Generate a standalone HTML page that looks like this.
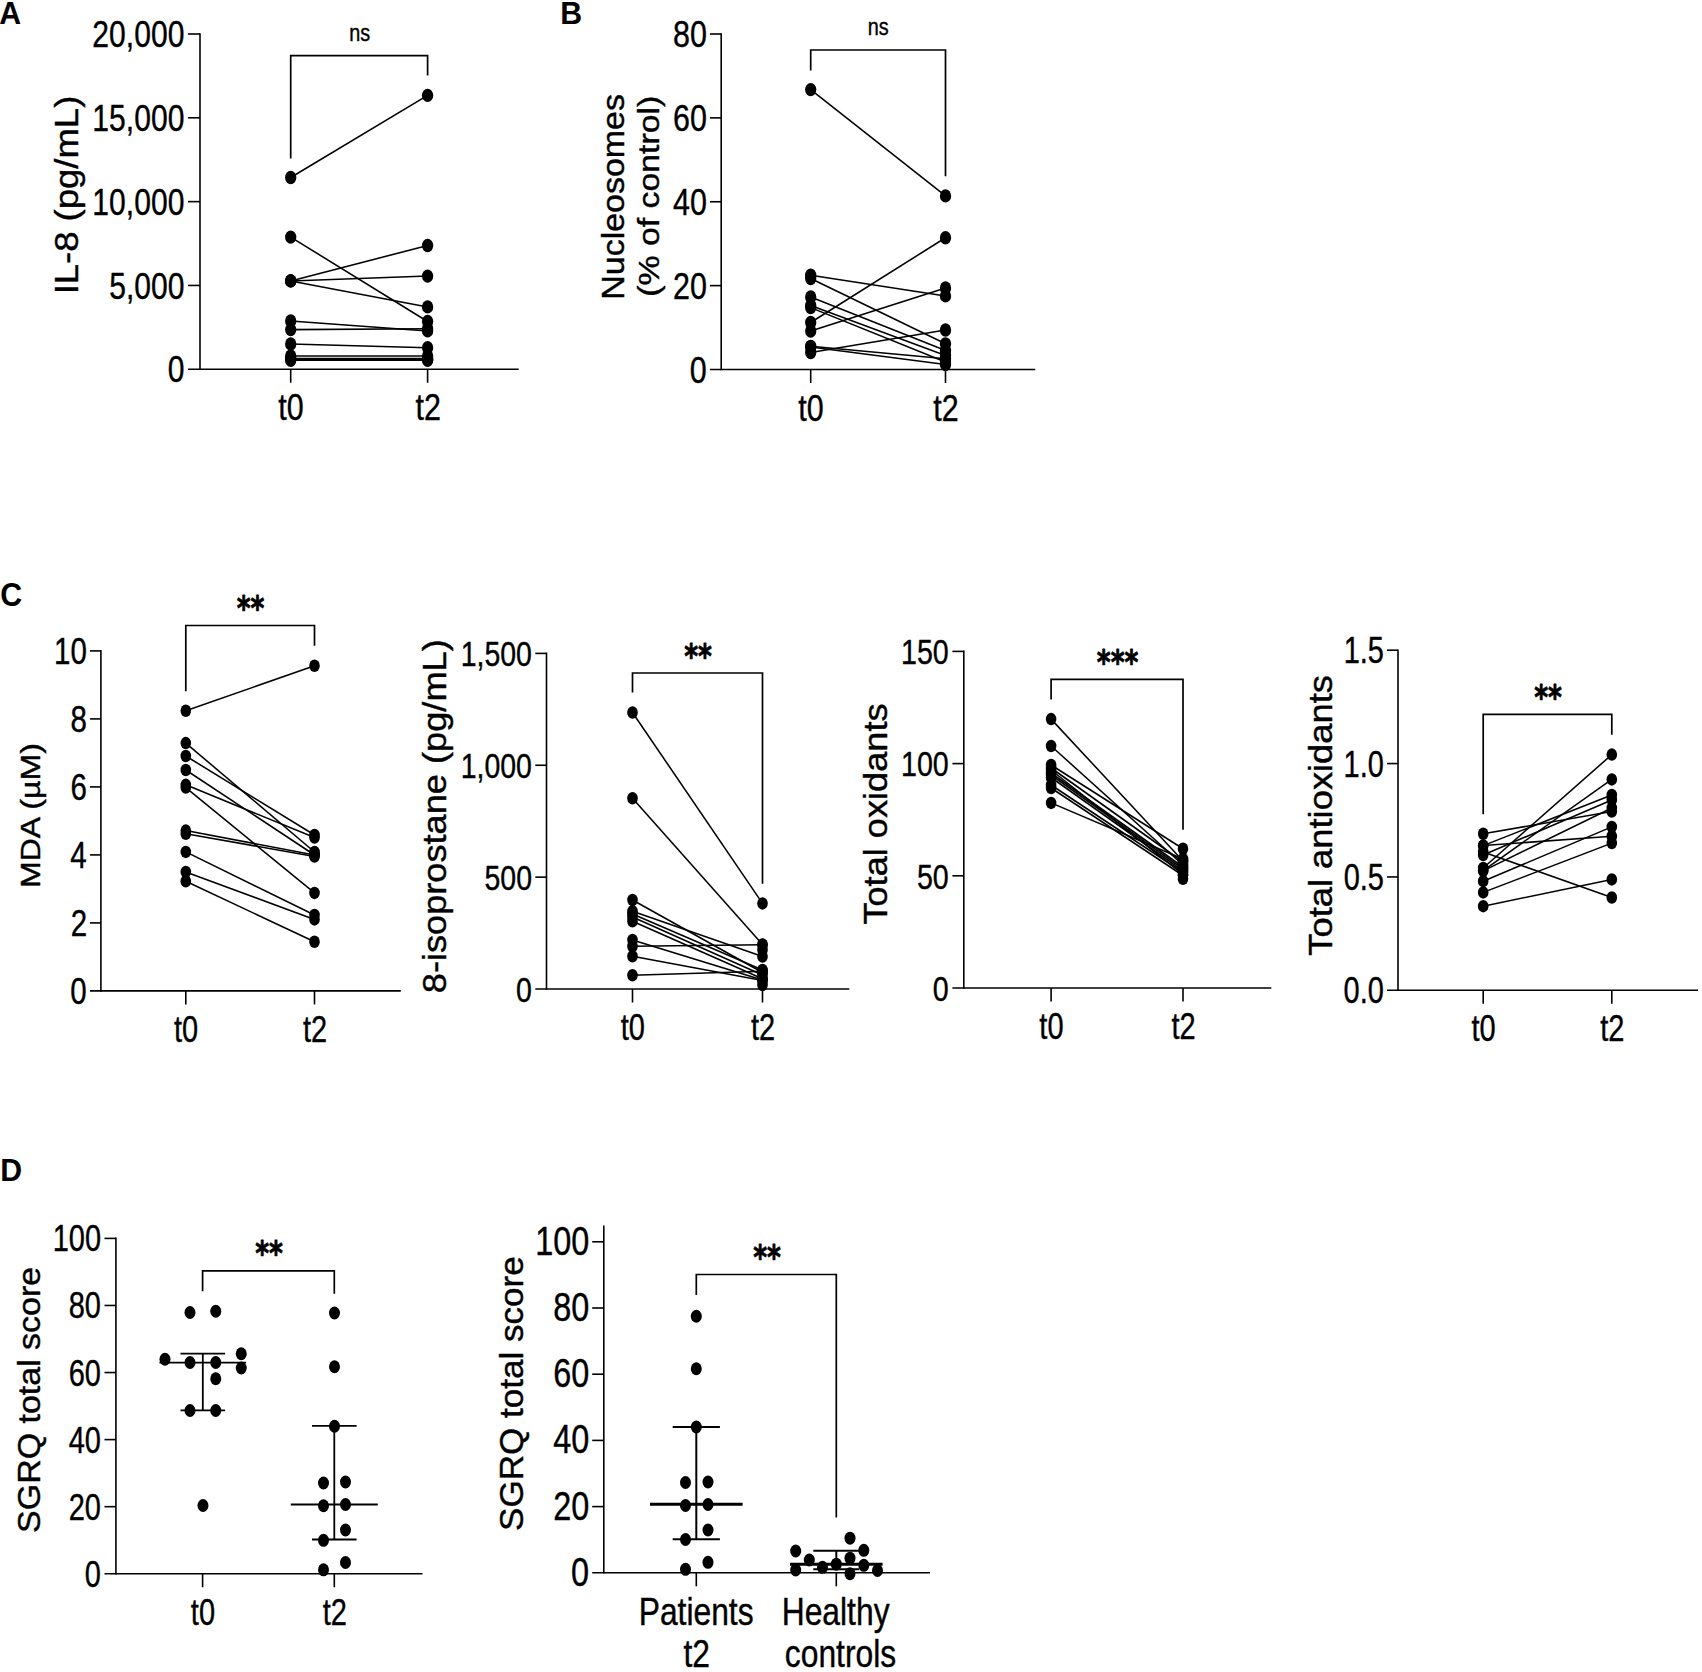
<!DOCTYPE html>
<html lang="en"><head><meta charset="utf-8"><title>Figure</title>
<style>html,body{margin:0;padding:0;background:#fff}svg{display:block}text{font-family:"Liberation Sans",sans-serif;fill:#000;stroke:#000;stroke-width:.4px;stroke-linejoin:round}text.st{font-family:"DejaVu Sans","Liberation Sans",sans-serif;font-weight:bold;stroke-width:.8px}text.pl{stroke:none}</style>
</head><body>
<svg width="1702" height="1672" viewBox="0 0 1702 1672" stroke="#000" >
<rect x="0" y="0" width="1702" height="1672" fill="#fff" stroke="none"/>
<text transform="matrix(1 0 0 1.035 -0.76 24.15)" font-size="30.3" font-weight="bold" class="pl">A</text>
<text transform="matrix(1 0 0 1.035 560.23 24.15)" font-size="30.3" font-weight="bold" class="pl">B</text>
<text transform="matrix(1 0 0 1.07 0.3 606.1)" font-size="30.3" font-weight="bold" class="pl">C</text>
<text transform="matrix(1 0 0 1.035 0.13 1181.4)" font-size="30.3" font-weight="bold" class="pl">D</text>
<line x1="200" y1="33.2" x2="200" y2="370.06" stroke-width="1.6"/>
<line x1="188" y1="369.26" x2="518.7" y2="369.26" stroke-width="1.6"/>
<line x1="188" y1="34" x2="200" y2="34" stroke-width="1.6"/>
<line x1="188" y1="117.81" x2="200" y2="117.81" stroke-width="1.6"/>
<line x1="188" y1="201.63" x2="200" y2="201.63" stroke-width="1.6"/>
<line x1="188" y1="285.44" x2="200" y2="285.44" stroke-width="1.6"/>
<line x1="290.7" y1="369.26" x2="290.7" y2="382.76" stroke-width="1.6"/>
<line x1="427.6" y1="369.26" x2="427.6" y2="382.76" stroke-width="1.6"/>
<text transform="matrix(0.82 0 0 1 92.37 47.16)" font-size="36.7">20,000</text>
<text transform="matrix(0.82 0 0 1 92.37 130.98)" font-size="36.7">15,000</text>
<text transform="matrix(0.82 0 0 1 92.37 214.79)" font-size="36.7">10,000</text>
<text transform="matrix(0.82 0 0 1 109.22 298.61)" font-size="36.7">5,000</text>
<text transform="matrix(0.82 0 0 1 167.75 382.42)" font-size="36.7">0</text>
<text transform="matrix(0.83 0 0 1 278.29 420.26)" font-size="36.7">t0</text>
<text transform="matrix(0.83 0 0 1 415.42 420.26)" font-size="36.7">t2</text>
<text transform="matrix(0 -1.09 1 0 77.9 294.37)" font-size="33.48">IL-8 (pg/mL)</text>
<text transform="matrix(0.82 0 0 1 349.13 40.9)" font-size="24.2">ns</text>
<path d="M290.7 158.4V55.6H427.6V75.6" stroke-width="1.7" fill="none"/>
<line x1="290.7" y1="177.5" x2="427.6" y2="95.4" stroke-width="1.55"/>
<line x1="290.7" y1="237.1" x2="427.6" y2="321.5" stroke-width="1.55"/>
<line x1="290.7" y1="280.9" x2="427.6" y2="245.5" stroke-width="1.55"/>
<line x1="290.7" y1="280.9" x2="427.6" y2="276.1" stroke-width="1.55"/>
<line x1="290.7" y1="280.9" x2="427.6" y2="306.9" stroke-width="1.55"/>
<line x1="290.7" y1="320.9" x2="427.6" y2="330.9" stroke-width="1.55"/>
<line x1="290.7" y1="329.6" x2="427.6" y2="328.7" stroke-width="1.55"/>
<line x1="290.7" y1="344" x2="427.6" y2="347.75" stroke-width="1.55"/>
<line x1="290.7" y1="355.9" x2="427.6" y2="355.9" stroke-width="1.55"/>
<line x1="290.7" y1="358.4" x2="427.6" y2="358.4" stroke-width="1.55"/>
<line x1="290.7" y1="359.4" x2="427.6" y2="359.4" stroke-width="1.55"/>
<line x1="290.7" y1="360.3" x2="427.6" y2="360.3" stroke-width="1.55"/>
<ellipse cx="290.7" cy="177.5" rx="5.65" ry="6.65" fill="#000" stroke="none"/>
<ellipse cx="427.6" cy="95.4" rx="5.65" ry="6.65" fill="#000" stroke="none"/>
<ellipse cx="290.7" cy="237.1" rx="5.65" ry="6.65" fill="#000" stroke="none"/>
<ellipse cx="427.6" cy="321.5" rx="5.65" ry="6.65" fill="#000" stroke="none"/>
<ellipse cx="290.7" cy="280.9" rx="5.65" ry="6.65" fill="#000" stroke="none"/>
<ellipse cx="427.6" cy="245.5" rx="5.65" ry="6.65" fill="#000" stroke="none"/>
<ellipse cx="290.7" cy="280.9" rx="5.65" ry="6.65" fill="#000" stroke="none"/>
<ellipse cx="427.6" cy="276.1" rx="5.65" ry="6.65" fill="#000" stroke="none"/>
<ellipse cx="290.7" cy="280.9" rx="5.65" ry="6.65" fill="#000" stroke="none"/>
<ellipse cx="427.6" cy="306.9" rx="5.65" ry="6.65" fill="#000" stroke="none"/>
<ellipse cx="290.7" cy="320.9" rx="5.65" ry="6.65" fill="#000" stroke="none"/>
<ellipse cx="427.6" cy="330.9" rx="5.65" ry="6.65" fill="#000" stroke="none"/>
<ellipse cx="290.7" cy="329.6" rx="5.65" ry="6.65" fill="#000" stroke="none"/>
<ellipse cx="427.6" cy="328.7" rx="5.65" ry="6.65" fill="#000" stroke="none"/>
<ellipse cx="290.7" cy="344" rx="5.65" ry="6.65" fill="#000" stroke="none"/>
<ellipse cx="427.6" cy="347.75" rx="5.65" ry="6.65" fill="#000" stroke="none"/>
<ellipse cx="290.7" cy="355.9" rx="5.65" ry="6.65" fill="#000" stroke="none"/>
<ellipse cx="427.6" cy="355.9" rx="5.65" ry="6.65" fill="#000" stroke="none"/>
<ellipse cx="290.7" cy="358.4" rx="5.65" ry="6.65" fill="#000" stroke="none"/>
<ellipse cx="427.6" cy="358.4" rx="5.65" ry="6.65" fill="#000" stroke="none"/>
<ellipse cx="290.7" cy="359.4" rx="5.65" ry="6.65" fill="#000" stroke="none"/>
<ellipse cx="427.6" cy="359.4" rx="5.65" ry="6.65" fill="#000" stroke="none"/>
<ellipse cx="290.7" cy="360.3" rx="5.65" ry="6.65" fill="#000" stroke="none"/>
<ellipse cx="427.6" cy="360.3" rx="5.65" ry="6.65" fill="#000" stroke="none"/>
<line x1="721.2" y1="33.2" x2="721.2" y2="370.3" stroke-width="1.6"/>
<line x1="709.9" y1="369.5" x2="1035.2" y2="369.5" stroke-width="1.6"/>
<line x1="709.9" y1="34" x2="721.2" y2="34" stroke-width="1.6"/>
<line x1="709.9" y1="117.88" x2="721.2" y2="117.88" stroke-width="1.6"/>
<line x1="709.9" y1="201.75" x2="721.2" y2="201.75" stroke-width="1.6"/>
<line x1="709.9" y1="285.62" x2="721.2" y2="285.62" stroke-width="1.6"/>
<line x1="810.7" y1="369.5" x2="810.7" y2="383" stroke-width="1.6"/>
<line x1="945.5" y1="369.5" x2="945.5" y2="383" stroke-width="1.6"/>
<text transform="matrix(0.83 0 0 1 672.95 47.16)" font-size="36.7">80</text>
<text transform="matrix(0.83 0 0 1 672.95 131.04)" font-size="36.7">60</text>
<text transform="matrix(0.83 0 0 1 672.95 214.91)" font-size="36.7">40</text>
<text transform="matrix(0.83 0 0 1 672.95 298.79)" font-size="36.7">20</text>
<text transform="matrix(0.83 0 0 1 689.86 382.66)" font-size="36.7">0</text>
<text transform="matrix(0.83 0 0 1 798.29 420.5)" font-size="36.7">t0</text>
<text transform="matrix(0.83 0 0 1 933.32 420.5)" font-size="36.7">t2</text>
<text transform="matrix(0 -1.1 1 0 624.4 299.73)" font-size="30.87">Nucleosomes</text>
<text transform="matrix(0 -1.15 1 0 658.8 296.63)" font-size="29.38">(% of control)</text>
<text transform="matrix(0.82 0 0 1 867.83 35.2)" font-size="24.2">ns</text>
<path d="M810.7 70.6V50H945.5V176.3" stroke-width="1.7" fill="none"/>
<line x1="810.7" y1="89.6" x2="945.5" y2="195.9" stroke-width="1.55"/>
<line x1="810.7" y1="275.2" x2="945.5" y2="295.9" stroke-width="1.55"/>
<line x1="810.7" y1="278.5" x2="945.5" y2="343.8" stroke-width="1.55"/>
<line x1="810.7" y1="297" x2="945.5" y2="350.5" stroke-width="1.55"/>
<line x1="810.7" y1="305.5" x2="945.5" y2="355.5" stroke-width="1.55"/>
<line x1="810.7" y1="307.6" x2="945.5" y2="362" stroke-width="1.55"/>
<line x1="810.7" y1="322.5" x2="945.5" y2="237.75" stroke-width="1.55"/>
<line x1="810.7" y1="331" x2="945.5" y2="288" stroke-width="1.55"/>
<line x1="810.7" y1="346.3" x2="945.5" y2="358.8" stroke-width="1.55"/>
<line x1="810.7" y1="347" x2="945.5" y2="364.5" stroke-width="1.55"/>
<line x1="810.7" y1="352.5" x2="945.5" y2="330" stroke-width="1.55"/>
<ellipse cx="810.7" cy="89.6" rx="5.65" ry="6.65" fill="#000" stroke="none"/>
<ellipse cx="945.5" cy="195.9" rx="5.65" ry="6.65" fill="#000" stroke="none"/>
<ellipse cx="810.7" cy="275.2" rx="5.65" ry="6.65" fill="#000" stroke="none"/>
<ellipse cx="945.5" cy="295.9" rx="5.65" ry="6.65" fill="#000" stroke="none"/>
<ellipse cx="810.7" cy="278.5" rx="5.65" ry="6.65" fill="#000" stroke="none"/>
<ellipse cx="945.5" cy="343.8" rx="5.65" ry="6.65" fill="#000" stroke="none"/>
<ellipse cx="810.7" cy="297" rx="5.65" ry="6.65" fill="#000" stroke="none"/>
<ellipse cx="945.5" cy="350.5" rx="5.65" ry="6.65" fill="#000" stroke="none"/>
<ellipse cx="810.7" cy="305.5" rx="5.65" ry="6.65" fill="#000" stroke="none"/>
<ellipse cx="945.5" cy="355.5" rx="5.65" ry="6.65" fill="#000" stroke="none"/>
<ellipse cx="810.7" cy="307.6" rx="5.65" ry="6.65" fill="#000" stroke="none"/>
<ellipse cx="945.5" cy="362" rx="5.65" ry="6.65" fill="#000" stroke="none"/>
<ellipse cx="810.7" cy="322.5" rx="5.65" ry="6.65" fill="#000" stroke="none"/>
<ellipse cx="945.5" cy="237.75" rx="5.65" ry="6.65" fill="#000" stroke="none"/>
<ellipse cx="810.7" cy="331" rx="5.65" ry="6.65" fill="#000" stroke="none"/>
<ellipse cx="945.5" cy="288" rx="5.65" ry="6.65" fill="#000" stroke="none"/>
<ellipse cx="810.7" cy="346.3" rx="5.65" ry="6.65" fill="#000" stroke="none"/>
<ellipse cx="945.5" cy="358.8" rx="5.65" ry="6.65" fill="#000" stroke="none"/>
<ellipse cx="810.7" cy="347" rx="5.65" ry="6.65" fill="#000" stroke="none"/>
<ellipse cx="945.5" cy="364.5" rx="5.65" ry="6.65" fill="#000" stroke="none"/>
<ellipse cx="810.7" cy="352.5" rx="5.65" ry="6.65" fill="#000" stroke="none"/>
<ellipse cx="945.5" cy="330" rx="5.65" ry="6.65" fill="#000" stroke="none"/>
<line x1="100.9" y1="650.1" x2="100.9" y2="991.7" stroke-width="1.6"/>
<line x1="90" y1="990.9" x2="400.8" y2="990.9" stroke-width="1.6"/>
<line x1="90" y1="650.9" x2="100.9" y2="650.9" stroke-width="1.6"/>
<line x1="90" y1="718.9" x2="100.9" y2="718.9" stroke-width="1.6"/>
<line x1="90" y1="786.9" x2="100.9" y2="786.9" stroke-width="1.6"/>
<line x1="90" y1="854.9" x2="100.9" y2="854.9" stroke-width="1.6"/>
<line x1="90" y1="922.9" x2="100.9" y2="922.9" stroke-width="1.6"/>
<line x1="185.8" y1="990.9" x2="185.8" y2="1004.4" stroke-width="1.6"/>
<line x1="314.5" y1="990.9" x2="314.5" y2="1004.4" stroke-width="1.6"/>
<text transform="matrix(0.81 0 0 1 54 663.96)" font-size="36.4">10</text>
<text transform="matrix(0.81 0 0 1 70.52 731.96)" font-size="36.4">8</text>
<text transform="matrix(0.81 0 0 1 70.52 799.96)" font-size="36.4">6</text>
<text transform="matrix(0.81 0 0 1 70.22 867.96)" font-size="36.4">4</text>
<text transform="matrix(0.81 0 0 1 70.81 935.96)" font-size="36.4">2</text>
<text transform="matrix(0.81 0 0 1 70.37 1003.96)" font-size="36.4">0</text>
<text transform="matrix(0.79 0 0 1 174.06 1041.9)" font-size="36.7">t0</text>
<text transform="matrix(0.79 0 0 1 302.98 1041.9)" font-size="36.7">t2</text>
<text transform="matrix(0 -1.19 1 0 40.3 888.07)" font-size="26.96">MDA (µM)</text>
<text class="st" transform="matrix(0.77 0 0 1 236.72 620.16)" font-size="34.41">**</text>
<path d="M185.8 691.3V625.5H314.5V645.8" stroke-width="1.7" fill="none"/>
<line x1="185.8" y1="710.75" x2="314.5" y2="665.75" stroke-width="1.55"/>
<line x1="185.8" y1="743.1" x2="314.5" y2="852" stroke-width="1.55"/>
<line x1="185.8" y1="756" x2="314.5" y2="835" stroke-width="1.55"/>
<line x1="185.8" y1="770" x2="314.5" y2="855" stroke-width="1.55"/>
<line x1="185.8" y1="784.8" x2="314.5" y2="837.5" stroke-width="1.55"/>
<line x1="185.8" y1="787.6" x2="314.5" y2="892.9" stroke-width="1.55"/>
<line x1="185.8" y1="830.6" x2="314.5" y2="855" stroke-width="1.55"/>
<line x1="185.8" y1="833.75" x2="314.5" y2="856.5" stroke-width="1.55"/>
<line x1="185.8" y1="851.9" x2="314.5" y2="915" stroke-width="1.55"/>
<line x1="185.8" y1="871.9" x2="314.5" y2="919.4" stroke-width="1.55"/>
<line x1="185.8" y1="881.25" x2="314.5" y2="941.75" stroke-width="1.55"/>
<ellipse cx="185.8" cy="710.75" rx="5.3" ry="6.25" fill="#000" stroke="none"/>
<ellipse cx="314.5" cy="665.75" rx="5.3" ry="6.25" fill="#000" stroke="none"/>
<ellipse cx="185.8" cy="743.1" rx="5.3" ry="6.25" fill="#000" stroke="none"/>
<ellipse cx="314.5" cy="852" rx="5.3" ry="6.25" fill="#000" stroke="none"/>
<ellipse cx="185.8" cy="756" rx="5.3" ry="6.25" fill="#000" stroke="none"/>
<ellipse cx="314.5" cy="835" rx="5.3" ry="6.25" fill="#000" stroke="none"/>
<ellipse cx="185.8" cy="770" rx="5.3" ry="6.25" fill="#000" stroke="none"/>
<ellipse cx="314.5" cy="855" rx="5.3" ry="6.25" fill="#000" stroke="none"/>
<ellipse cx="185.8" cy="784.8" rx="5.3" ry="6.25" fill="#000" stroke="none"/>
<ellipse cx="314.5" cy="837.5" rx="5.3" ry="6.25" fill="#000" stroke="none"/>
<ellipse cx="185.8" cy="787.6" rx="5.3" ry="6.25" fill="#000" stroke="none"/>
<ellipse cx="314.5" cy="892.9" rx="5.3" ry="6.25" fill="#000" stroke="none"/>
<ellipse cx="185.8" cy="830.6" rx="5.3" ry="6.25" fill="#000" stroke="none"/>
<ellipse cx="314.5" cy="855" rx="5.3" ry="6.25" fill="#000" stroke="none"/>
<ellipse cx="185.8" cy="833.75" rx="5.3" ry="6.25" fill="#000" stroke="none"/>
<ellipse cx="314.5" cy="856.5" rx="5.3" ry="6.25" fill="#000" stroke="none"/>
<ellipse cx="185.8" cy="851.9" rx="5.3" ry="6.25" fill="#000" stroke="none"/>
<ellipse cx="314.5" cy="915" rx="5.3" ry="6.25" fill="#000" stroke="none"/>
<ellipse cx="185.8" cy="871.9" rx="5.3" ry="6.25" fill="#000" stroke="none"/>
<ellipse cx="314.5" cy="919.4" rx="5.3" ry="6.25" fill="#000" stroke="none"/>
<ellipse cx="185.8" cy="881.25" rx="5.3" ry="6.25" fill="#000" stroke="none"/>
<ellipse cx="314.5" cy="941.75" rx="5.3" ry="6.25" fill="#000" stroke="none"/>
<line x1="546.5" y1="652.6" x2="546.5" y2="989.82" stroke-width="1.6"/>
<line x1="535.3" y1="989.02" x2="849.3" y2="989.02" stroke-width="1.6"/>
<line x1="535.3" y1="653.4" x2="546.5" y2="653.4" stroke-width="1.6"/>
<line x1="535.3" y1="765.27" x2="546.5" y2="765.27" stroke-width="1.6"/>
<line x1="535.3" y1="877.15" x2="546.5" y2="877.15" stroke-width="1.6"/>
<line x1="632.5" y1="989.02" x2="632.5" y2="1002.52" stroke-width="1.6"/>
<line x1="762.5" y1="989.02" x2="762.5" y2="1002.52" stroke-width="1.6"/>
<text transform="matrix(0.8 0 0 1 460.7 666.18)" font-size="35.6">1,500</text>
<text transform="matrix(0.8 0 0 1 460.7 778.06)" font-size="35.6">1,000</text>
<text transform="matrix(0.8 0 0 1 484.48 889.93)" font-size="35.6">500</text>
<text transform="matrix(0.8 0 0 1 516.09 1001.81)" font-size="35.6">0</text>
<text transform="matrix(0.79 0 0 1 620.76 1040.03)" font-size="36.7">t0</text>
<text transform="matrix(0.79 0 0 1 750.98 1040.03)" font-size="36.7">t2</text>
<text transform="matrix(0 -1.12 1 0 446.2 993.23)" font-size="32.32">8-isoprostane (pg/mL)</text>
<text class="st" transform="matrix(0.77 0 0 1 684.27 667.56)" font-size="34.41">**</text>
<path d="M632.5 692.5V673H762.5V883.75" stroke-width="1.7" fill="none"/>
<line x1="632.5" y1="712.5" x2="762.5" y2="903.4" stroke-width="1.55"/>
<line x1="632.5" y1="798.25" x2="762.5" y2="944.4" stroke-width="1.55"/>
<line x1="632.5" y1="900" x2="762.5" y2="972.5" stroke-width="1.55"/>
<line x1="632.5" y1="911.25" x2="762.5" y2="956.5" stroke-width="1.55"/>
<line x1="632.5" y1="914" x2="762.5" y2="970" stroke-width="1.55"/>
<line x1="632.5" y1="917" x2="762.5" y2="975" stroke-width="1.55"/>
<line x1="632.5" y1="921.25" x2="762.5" y2="978.8" stroke-width="1.55"/>
<line x1="632.5" y1="940" x2="762.5" y2="980" stroke-width="1.55"/>
<line x1="632.5" y1="946.25" x2="762.5" y2="944.75" stroke-width="1.55"/>
<line x1="632.5" y1="956.25" x2="762.5" y2="980.6" stroke-width="1.55"/>
<line x1="632.5" y1="975.25" x2="762.5" y2="971.25" stroke-width="1.55"/>
<ellipse cx="632.5" cy="712.5" rx="5.3" ry="6.25" fill="#000" stroke="none"/>
<ellipse cx="762.5" cy="903.4" rx="5.3" ry="6.25" fill="#000" stroke="none"/>
<ellipse cx="632.5" cy="798.25" rx="5.3" ry="6.25" fill="#000" stroke="none"/>
<ellipse cx="762.5" cy="944.4" rx="5.3" ry="6.25" fill="#000" stroke="none"/>
<ellipse cx="632.5" cy="900" rx="5.3" ry="6.25" fill="#000" stroke="none"/>
<ellipse cx="762.5" cy="972.5" rx="5.3" ry="6.25" fill="#000" stroke="none"/>
<ellipse cx="632.5" cy="911.25" rx="5.3" ry="6.25" fill="#000" stroke="none"/>
<ellipse cx="762.5" cy="956.5" rx="5.3" ry="6.25" fill="#000" stroke="none"/>
<ellipse cx="632.5" cy="914" rx="5.3" ry="6.25" fill="#000" stroke="none"/>
<ellipse cx="762.5" cy="970" rx="5.3" ry="6.25" fill="#000" stroke="none"/>
<ellipse cx="632.5" cy="917" rx="5.3" ry="6.25" fill="#000" stroke="none"/>
<ellipse cx="762.5" cy="975" rx="5.3" ry="6.25" fill="#000" stroke="none"/>
<ellipse cx="632.5" cy="921.25" rx="5.3" ry="6.25" fill="#000" stroke="none"/>
<ellipse cx="762.5" cy="978.8" rx="5.3" ry="6.25" fill="#000" stroke="none"/>
<ellipse cx="632.5" cy="940" rx="5.3" ry="6.25" fill="#000" stroke="none"/>
<ellipse cx="762.5" cy="980" rx="5.3" ry="6.25" fill="#000" stroke="none"/>
<ellipse cx="632.5" cy="946.25" rx="5.3" ry="6.25" fill="#000" stroke="none"/>
<ellipse cx="762.5" cy="944.75" rx="5.3" ry="6.25" fill="#000" stroke="none"/>
<ellipse cx="632.5" cy="956.25" rx="5.3" ry="6.25" fill="#000" stroke="none"/>
<ellipse cx="762.5" cy="980.6" rx="5.3" ry="6.25" fill="#000" stroke="none"/>
<ellipse cx="632.5" cy="975.25" rx="5.3" ry="6.25" fill="#000" stroke="none"/>
<ellipse cx="762.5" cy="971.25" rx="5.3" ry="6.25" fill="#000" stroke="none"/>
<ellipse cx="762.5" cy="985" rx="5.3" ry="6.25" fill="#000" stroke="none"/>
<ellipse cx="762.5" cy="950" rx="5.3" ry="6.25" fill="#000" stroke="none"/>
<line x1="963.8" y1="650.6" x2="963.8" y2="988.8" stroke-width="1.6"/>
<line x1="952.4" y1="988" x2="1271.3" y2="988" stroke-width="1.6"/>
<line x1="952.4" y1="651.4" x2="963.8" y2="651.4" stroke-width="1.6"/>
<line x1="952.4" y1="763.6" x2="963.8" y2="763.6" stroke-width="1.6"/>
<line x1="952.4" y1="875.8" x2="963.8" y2="875.8" stroke-width="1.6"/>
<line x1="1051.1" y1="988" x2="1051.1" y2="1001.5" stroke-width="1.6"/>
<line x1="1183" y1="988" x2="1183" y2="1001.5" stroke-width="1.6"/>
<text transform="matrix(0.8 0 0 1 901.02 664.25)" font-size="35.8">150</text>
<text transform="matrix(0.8 0 0 1 901.02 776.45)" font-size="35.8">100</text>
<text transform="matrix(0.8 0 0 1 916.91 888.65)" font-size="35.8">50</text>
<text transform="matrix(0.8 0 0 1 932.81 1000.85)" font-size="35.8">0</text>
<text transform="matrix(0.79 0 0 1 1039.36 1039)" font-size="36.7">t0</text>
<text transform="matrix(0.79 0 0 1 1171.48 1039)" font-size="36.7">t2</text>
<text transform="matrix(0 -1.1 1 0 886.6 924.62)" font-size="32.9">Total oxidants</text>
<text class="st" transform="matrix(0.77 0 0 1 1096.79 673.96)" font-size="34.41">***</text>
<path d="M1051.1 699.4V679.3H1183V829.7" stroke-width="1.7" fill="none"/>
<line x1="1051.1" y1="719.1" x2="1183" y2="861" stroke-width="1.55"/>
<line x1="1051.1" y1="746" x2="1183" y2="865" stroke-width="1.55"/>
<line x1="1051.1" y1="765" x2="1183" y2="848.75" stroke-width="1.55"/>
<line x1="1051.1" y1="768" x2="1183" y2="862" stroke-width="1.55"/>
<line x1="1051.1" y1="770" x2="1183" y2="874.5" stroke-width="1.55"/>
<line x1="1051.1" y1="773" x2="1183" y2="867" stroke-width="1.55"/>
<line x1="1051.1" y1="775" x2="1183" y2="869" stroke-width="1.55"/>
<line x1="1051.1" y1="777.5" x2="1183" y2="871" stroke-width="1.55"/>
<line x1="1051.1" y1="785" x2="1183" y2="872.5" stroke-width="1.55"/>
<line x1="1051.1" y1="788" x2="1183" y2="875.5" stroke-width="1.55"/>
<line x1="1051.1" y1="802.9" x2="1183" y2="859" stroke-width="1.55"/>
<ellipse cx="1051.1" cy="719.1" rx="5.3" ry="6.25" fill="#000" stroke="none"/>
<ellipse cx="1183" cy="861" rx="5.3" ry="6.25" fill="#000" stroke="none"/>
<ellipse cx="1051.1" cy="746" rx="5.3" ry="6.25" fill="#000" stroke="none"/>
<ellipse cx="1183" cy="865" rx="5.3" ry="6.25" fill="#000" stroke="none"/>
<ellipse cx="1051.1" cy="765" rx="5.3" ry="6.25" fill="#000" stroke="none"/>
<ellipse cx="1183" cy="848.75" rx="5.3" ry="6.25" fill="#000" stroke="none"/>
<ellipse cx="1051.1" cy="768" rx="5.3" ry="6.25" fill="#000" stroke="none"/>
<ellipse cx="1183" cy="862" rx="5.3" ry="6.25" fill="#000" stroke="none"/>
<ellipse cx="1051.1" cy="770" rx="5.3" ry="6.25" fill="#000" stroke="none"/>
<ellipse cx="1183" cy="874.5" rx="5.3" ry="6.25" fill="#000" stroke="none"/>
<ellipse cx="1051.1" cy="773" rx="5.3" ry="6.25" fill="#000" stroke="none"/>
<ellipse cx="1183" cy="867" rx="5.3" ry="6.25" fill="#000" stroke="none"/>
<ellipse cx="1051.1" cy="775" rx="5.3" ry="6.25" fill="#000" stroke="none"/>
<ellipse cx="1183" cy="869" rx="5.3" ry="6.25" fill="#000" stroke="none"/>
<ellipse cx="1051.1" cy="777.5" rx="5.3" ry="6.25" fill="#000" stroke="none"/>
<ellipse cx="1183" cy="871" rx="5.3" ry="6.25" fill="#000" stroke="none"/>
<ellipse cx="1051.1" cy="785" rx="5.3" ry="6.25" fill="#000" stroke="none"/>
<ellipse cx="1183" cy="872.5" rx="5.3" ry="6.25" fill="#000" stroke="none"/>
<ellipse cx="1051.1" cy="788" rx="5.3" ry="6.25" fill="#000" stroke="none"/>
<ellipse cx="1183" cy="875.5" rx="5.3" ry="6.25" fill="#000" stroke="none"/>
<ellipse cx="1051.1" cy="802.9" rx="5.3" ry="6.25" fill="#000" stroke="none"/>
<ellipse cx="1183" cy="859" rx="5.3" ry="6.25" fill="#000" stroke="none"/>
<ellipse cx="1183" cy="878.75" rx="5.3" ry="6.25" fill="#000" stroke="none"/>
<line x1="1398" y1="649.4" x2="1398" y2="991.11" stroke-width="1.6"/>
<line x1="1387" y1="990.31" x2="1698" y2="990.31" stroke-width="1.6"/>
<line x1="1387" y1="650.2" x2="1398" y2="650.2" stroke-width="1.6"/>
<line x1="1387" y1="763.57" x2="1398" y2="763.57" stroke-width="1.6"/>
<line x1="1387" y1="876.94" x2="1398" y2="876.94" stroke-width="1.6"/>
<line x1="1483.2" y1="990.31" x2="1483.2" y2="1003.81" stroke-width="1.6"/>
<line x1="1611.8" y1="990.31" x2="1611.8" y2="1003.81" stroke-width="1.6"/>
<text transform="matrix(0.8 0 0 1 1343.7 663.19)" font-size="36.2">1.5</text>
<text transform="matrix(0.8 0 0 1 1343.56 776.56)" font-size="36.2">1.0</text>
<text transform="matrix(0.8 0 0 1 1343.7 889.93)" font-size="36.2">0.5</text>
<text transform="matrix(0.8 0 0 1 1343.56 1003.3)" font-size="36.2">0.0</text>
<text transform="matrix(0.79 0 0 1 1471.46 1041.31)" font-size="36.7">t0</text>
<text transform="matrix(0.79 0 0 1 1600.28 1041.31)" font-size="36.7">t2</text>
<text transform="matrix(0 -1.1 1 0 1332.3 955.73)" font-size="33.04">Total antioxidants</text>
<text class="st" transform="matrix(0.77 0 0 1 1534.17 708.96)" font-size="34.41">**</text>
<path d="M1483.2 814.2V714.3H1611.8V734.8" stroke-width="1.7" fill="none"/>
<line x1="1483.2" y1="833.75" x2="1611.8" y2="811.5" stroke-width="1.55"/>
<line x1="1483.2" y1="845.6" x2="1611.8" y2="795" stroke-width="1.55"/>
<line x1="1483.2" y1="845.6" x2="1611.8" y2="836.25" stroke-width="1.55"/>
<line x1="1483.2" y1="852" x2="1611.8" y2="897.5" stroke-width="1.55"/>
<line x1="1483.2" y1="855" x2="1611.8" y2="800" stroke-width="1.55"/>
<line x1="1483.2" y1="868" x2="1611.8" y2="754.6" stroke-width="1.55"/>
<line x1="1483.2" y1="870.6" x2="1611.8" y2="779.4" stroke-width="1.55"/>
<line x1="1483.2" y1="870.9" x2="1611.8" y2="808" stroke-width="1.55"/>
<line x1="1483.2" y1="881.2" x2="1611.8" y2="826.9" stroke-width="1.55"/>
<line x1="1483.2" y1="892.4" x2="1611.8" y2="843.1" stroke-width="1.55"/>
<line x1="1483.2" y1="906.2" x2="1611.8" y2="879.4" stroke-width="1.55"/>
<ellipse cx="1483.2" cy="833.75" rx="5.3" ry="6.25" fill="#000" stroke="none"/>
<ellipse cx="1611.8" cy="811.5" rx="5.3" ry="6.25" fill="#000" stroke="none"/>
<ellipse cx="1483.2" cy="845.6" rx="5.3" ry="6.25" fill="#000" stroke="none"/>
<ellipse cx="1611.8" cy="795" rx="5.3" ry="6.25" fill="#000" stroke="none"/>
<ellipse cx="1483.2" cy="845.6" rx="5.3" ry="6.25" fill="#000" stroke="none"/>
<ellipse cx="1611.8" cy="836.25" rx="5.3" ry="6.25" fill="#000" stroke="none"/>
<ellipse cx="1483.2" cy="852" rx="5.3" ry="6.25" fill="#000" stroke="none"/>
<ellipse cx="1611.8" cy="897.5" rx="5.3" ry="6.25" fill="#000" stroke="none"/>
<ellipse cx="1483.2" cy="855" rx="5.3" ry="6.25" fill="#000" stroke="none"/>
<ellipse cx="1611.8" cy="800" rx="5.3" ry="6.25" fill="#000" stroke="none"/>
<ellipse cx="1483.2" cy="868" rx="5.3" ry="6.25" fill="#000" stroke="none"/>
<ellipse cx="1611.8" cy="754.6" rx="5.3" ry="6.25" fill="#000" stroke="none"/>
<ellipse cx="1483.2" cy="870.6" rx="5.3" ry="6.25" fill="#000" stroke="none"/>
<ellipse cx="1611.8" cy="779.4" rx="5.3" ry="6.25" fill="#000" stroke="none"/>
<ellipse cx="1483.2" cy="870.9" rx="5.3" ry="6.25" fill="#000" stroke="none"/>
<ellipse cx="1611.8" cy="808" rx="5.3" ry="6.25" fill="#000" stroke="none"/>
<ellipse cx="1483.2" cy="881.2" rx="5.3" ry="6.25" fill="#000" stroke="none"/>
<ellipse cx="1611.8" cy="826.9" rx="5.3" ry="6.25" fill="#000" stroke="none"/>
<ellipse cx="1483.2" cy="892.4" rx="5.3" ry="6.25" fill="#000" stroke="none"/>
<ellipse cx="1611.8" cy="843.1" rx="5.3" ry="6.25" fill="#000" stroke="none"/>
<ellipse cx="1483.2" cy="906.2" rx="5.3" ry="6.25" fill="#000" stroke="none"/>
<ellipse cx="1611.8" cy="879.4" rx="5.3" ry="6.25" fill="#000" stroke="none"/>
<line x1="115.9" y1="1237.6" x2="115.9" y2="1574.55" stroke-width="1.6"/>
<line x1="104.5" y1="1573.75" x2="422.5" y2="1573.75" stroke-width="1.6"/>
<line x1="104.5" y1="1238.4" x2="115.9" y2="1238.4" stroke-width="1.6"/>
<line x1="104.5" y1="1305.47" x2="115.9" y2="1305.47" stroke-width="1.6"/>
<line x1="104.5" y1="1372.54" x2="115.9" y2="1372.54" stroke-width="1.6"/>
<line x1="104.5" y1="1439.61" x2="115.9" y2="1439.61" stroke-width="1.6"/>
<line x1="104.5" y1="1506.68" x2="115.9" y2="1506.68" stroke-width="1.6"/>
<line x1="202.6" y1="1573.75" x2="202.6" y2="1587.25" stroke-width="1.6"/>
<line x1="334.3" y1="1573.75" x2="334.3" y2="1587.25" stroke-width="1.6"/>
<text transform="matrix(0.8 0 0 1 52.7 1251.39)" font-size="36.2">100</text>
<text transform="matrix(0.8 0 0 1 68.77 1318.46)" font-size="36.2">80</text>
<text transform="matrix(0.8 0 0 1 68.77 1385.53)" font-size="36.2">60</text>
<text transform="matrix(0.8 0 0 1 68.77 1452.6)" font-size="36.2">40</text>
<text transform="matrix(0.8 0 0 1 68.77 1519.67)" font-size="36.2">20</text>
<text transform="matrix(0.8 0 0 1 84.84 1586.74)" font-size="36.2">0</text>
<text transform="matrix(0.79 0 0 1 190.86 1624.75)" font-size="36.7">t0</text>
<text transform="matrix(0.79 0 0 1 322.78 1624.75)" font-size="36.7">t2</text>
<text transform="matrix(0 -1.08 1 0 40 1532.92)" font-size="31.45">SGRQ total score</text>
<text class="st" transform="matrix(0.77 0 0 1 255.17 1265.46)" font-size="34.41">**</text>
<path d="M202.6 1291.3V1270.8H334.3V1293.8" stroke-width="1.7" fill="none"/>
<line x1="202.8" y1="1353.7" x2="202.8" y2="1410.3" stroke-width="1.8"/>
<line x1="180.5" y1="1353.7" x2="225.1" y2="1353.7" stroke-width="1.8"/>
<line x1="180.5" y1="1410.3" x2="225.1" y2="1410.3" stroke-width="1.8"/>
<line x1="159.5" y1="1362.6" x2="246.1" y2="1362.6" stroke-width="1.8"/>
<line x1="334.3" y1="1425.8" x2="334.3" y2="1539.5" stroke-width="1.8"/>
<line x1="312" y1="1425.8" x2="356.6" y2="1425.8" stroke-width="1.8"/>
<line x1="312" y1="1539.5" x2="356.6" y2="1539.5" stroke-width="1.8"/>
<line x1="290.8" y1="1504.5" x2="377.8" y2="1504.5" stroke-width="1.8"/>
<ellipse cx="190" cy="1312.5" rx="5.5" ry="6.5" fill="#000" stroke="none"/>
<ellipse cx="215.75" cy="1311.25" rx="5.5" ry="6.5" fill="#000" stroke="none"/>
<ellipse cx="165" cy="1359.25" rx="5.5" ry="6.5" fill="#000" stroke="none"/>
<ellipse cx="241.25" cy="1353.75" rx="5.5" ry="6.5" fill="#000" stroke="none"/>
<ellipse cx="190" cy="1362.5" rx="5.5" ry="6.5" fill="#000" stroke="none"/>
<ellipse cx="215.75" cy="1362.5" rx="5.5" ry="6.5" fill="#000" stroke="none"/>
<ellipse cx="241.25" cy="1368" rx="5.5" ry="6.5" fill="#000" stroke="none"/>
<ellipse cx="215.75" cy="1378.75" rx="5.5" ry="6.5" fill="#000" stroke="none"/>
<ellipse cx="190" cy="1410.5" rx="5.5" ry="6.5" fill="#000" stroke="none"/>
<ellipse cx="215.75" cy="1410.5" rx="5.5" ry="6.5" fill="#000" stroke="none"/>
<ellipse cx="203" cy="1505.5" rx="5.5" ry="6.5" fill="#000" stroke="none"/>
<ellipse cx="334.5" cy="1313" rx="5.5" ry="6.5" fill="#000" stroke="none"/>
<ellipse cx="334.5" cy="1366.75" rx="5.5" ry="6.5" fill="#000" stroke="none"/>
<ellipse cx="334.5" cy="1426.25" rx="5.5" ry="6.5" fill="#000" stroke="none"/>
<ellipse cx="323.5" cy="1483" rx="5.5" ry="6.5" fill="#000" stroke="none"/>
<ellipse cx="345.5" cy="1482" rx="5.5" ry="6.5" fill="#000" stroke="none"/>
<ellipse cx="323.5" cy="1505.75" rx="5.5" ry="6.5" fill="#000" stroke="none"/>
<ellipse cx="345.5" cy="1504.5" rx="5.5" ry="6.5" fill="#000" stroke="none"/>
<ellipse cx="345.5" cy="1530" rx="5.5" ry="6.5" fill="#000" stroke="none"/>
<ellipse cx="323.5" cy="1540.3" rx="5.5" ry="6.5" fill="#000" stroke="none"/>
<ellipse cx="345.5" cy="1562.5" rx="5.5" ry="6.5" fill="#000" stroke="none"/>
<ellipse cx="323.5" cy="1569.8" rx="5.5" ry="6.5" fill="#000" stroke="none"/>
<line x1="603.8" y1="1225.5" x2="603.8" y2="1573.6" stroke-width="1.6"/>
<line x1="592.2" y1="1572.8" x2="930" y2="1572.8" stroke-width="1.6"/>
<line x1="592.2" y1="1241.8" x2="603.8" y2="1241.8" stroke-width="1.6"/>
<line x1="592.2" y1="1308" x2="603.8" y2="1308" stroke-width="1.6"/>
<line x1="592.2" y1="1374.2" x2="603.8" y2="1374.2" stroke-width="1.6"/>
<line x1="592.2" y1="1440.4" x2="603.8" y2="1440.4" stroke-width="1.6"/>
<line x1="592.2" y1="1506.6" x2="603.8" y2="1506.6" stroke-width="1.6"/>
<line x1="696.3" y1="1572.8" x2="696.3" y2="1586.3" stroke-width="1.6"/>
<line x1="836.3" y1="1572.8" x2="836.3" y2="1586.3" stroke-width="1.6"/>
<text transform="matrix(0.81 0 0 1 535.31 1254.7)" font-size="40">100</text>
<text transform="matrix(0.81 0 0 1 553.18 1320.9)" font-size="40">80</text>
<text transform="matrix(0.81 0 0 1 553.18 1387.1)" font-size="40">60</text>
<text transform="matrix(0.81 0 0 1 553.18 1453.3)" font-size="40">40</text>
<text transform="matrix(0.81 0 0 1 553.18 1519.5)" font-size="40">20</text>
<text transform="matrix(0.81 0 0 1 571.06 1585.7)" font-size="40">0</text>
<text transform="matrix(0 -1.08 1 0 523.4 1530.88)" font-size="32.46">SGRQ total score</text>
<text class="st" transform="matrix(0.77 0 0 1 753.17 1269.16)" font-size="34.41">**</text>
<path d="M696.3 1295V1274.5H836.3V1517.5" stroke-width="1.7" fill="none"/>
<line x1="696.3" y1="1427" x2="696.3" y2="1539.3" stroke-width="2"/>
<line x1="672.7" y1="1427" x2="719.9" y2="1427" stroke-width="2"/>
<line x1="672.7" y1="1539.3" x2="719.9" y2="1539.3" stroke-width="2"/>
<line x1="650" y1="1504.3" x2="742.6" y2="1504.3" stroke-width="3.1"/>
<line x1="836.3" y1="1550.8" x2="836.3" y2="1569.3" stroke-width="2"/>
<line x1="813.3" y1="1550.8" x2="859.3" y2="1550.8" stroke-width="2"/>
<line x1="813.3" y1="1569.3" x2="859.3" y2="1569.3" stroke-width="2"/>
<line x1="790" y1="1564.2" x2="882.6" y2="1564.2" stroke-width="3.1"/>
<ellipse cx="696.3" cy="1316.25" rx="5.5" ry="6.5" fill="#000" stroke="none"/>
<ellipse cx="696.3" cy="1368.75" rx="5.5" ry="6.5" fill="#000" stroke="none"/>
<ellipse cx="696.3" cy="1427" rx="5.5" ry="6.5" fill="#000" stroke="none"/>
<ellipse cx="685.5" cy="1482.5" rx="5.5" ry="6.5" fill="#000" stroke="none"/>
<ellipse cx="708" cy="1482" rx="5.5" ry="6.5" fill="#000" stroke="none"/>
<ellipse cx="685.5" cy="1505.5" rx="5.5" ry="6.5" fill="#000" stroke="none"/>
<ellipse cx="708" cy="1504.5" rx="5.5" ry="6.5" fill="#000" stroke="none"/>
<ellipse cx="708" cy="1530" rx="5.5" ry="6.5" fill="#000" stroke="none"/>
<ellipse cx="685.5" cy="1539.5" rx="5.5" ry="6.5" fill="#000" stroke="none"/>
<ellipse cx="708" cy="1562.3" rx="5.5" ry="6.5" fill="#000" stroke="none"/>
<ellipse cx="685.5" cy="1569.3" rx="5.5" ry="6.5" fill="#000" stroke="none"/>
<ellipse cx="795.7" cy="1551" rx="5.5" ry="6.5" fill="#000" stroke="none"/>
<ellipse cx="809.3" cy="1560" rx="5.5" ry="6.5" fill="#000" stroke="none"/>
<ellipse cx="795.7" cy="1570" rx="5.5" ry="6.5" fill="#000" stroke="none"/>
<ellipse cx="822.5" cy="1567.3" rx="5.5" ry="6.5" fill="#000" stroke="none"/>
<ellipse cx="836.3" cy="1564.2" rx="5.5" ry="6.5" fill="#000" stroke="none"/>
<ellipse cx="850" cy="1538.2" rx="5.5" ry="6.5" fill="#000" stroke="none"/>
<ellipse cx="850" cy="1558.2" rx="5.5" ry="6.5" fill="#000" stroke="none"/>
<ellipse cx="850" cy="1573.7" rx="5.5" ry="6.5" fill="#000" stroke="none"/>
<ellipse cx="863.8" cy="1550.3" rx="5.5" ry="6.5" fill="#000" stroke="none"/>
<ellipse cx="863.8" cy="1565.3" rx="5.5" ry="6.5" fill="#000" stroke="none"/>
<ellipse cx="877.5" cy="1570.5" rx="5.5" ry="6.5" fill="#000" stroke="none"/>
<text transform="matrix(0.82 0 0 1 638.68 1625)" font-size="38.8">Patients</text>
<text transform="matrix(0.82 0 0 1 683.47 1667)" font-size="38.8">t2</text>
<text transform="matrix(0.82 0 0 1 781.7 1625)" font-size="38.8">Healthy</text>
<text transform="matrix(0.82 0 0 1 784.84 1667)" font-size="38.8">controls</text>
</svg>
</body></html>
